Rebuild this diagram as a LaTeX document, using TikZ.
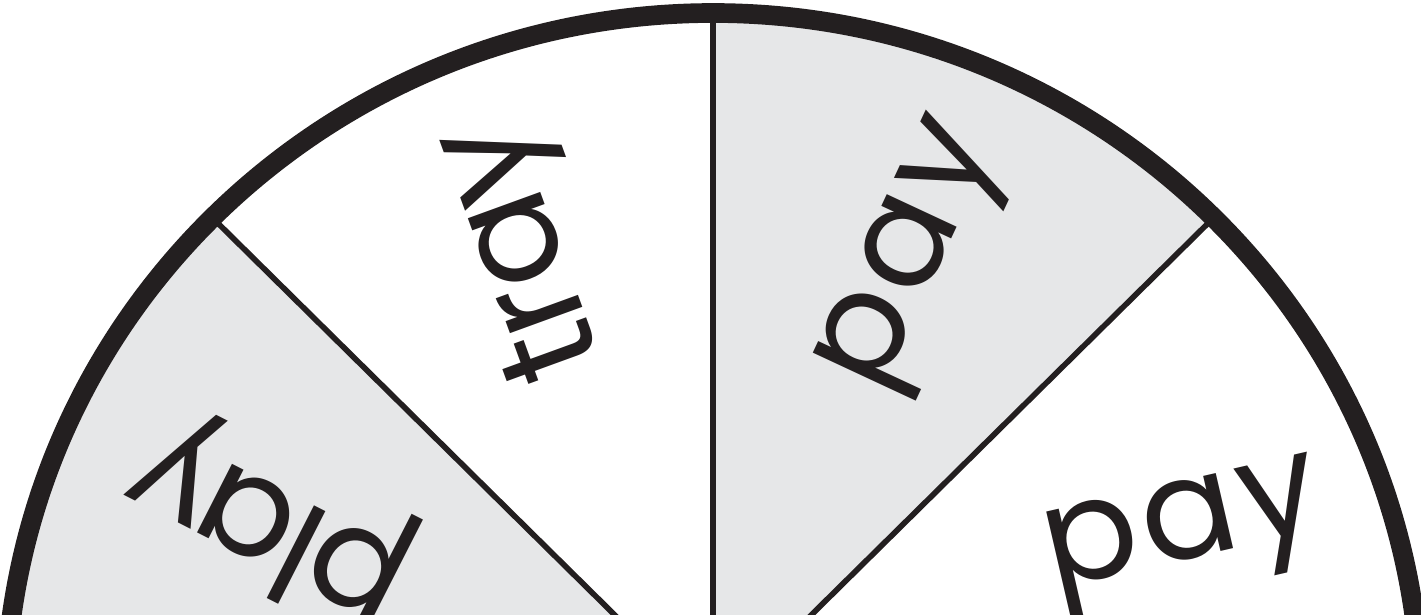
\documentclass[tikz,border=0pt]{standalone}
\usepackage{fontspec}
\setmainfont{Poppins}
\newfontfamily\spinfont[LetterSpace=4]{Poppins}
\newfontfamily\spinfonttight[LetterSpace=-3]{Poppins}
\definecolor{wedgegray}{RGB}{230,231,232}
\definecolor{inkblack}{RGB}{35,31,32}

\begin{document}
\begin{tikzpicture}[
    wedge/.style={fill=wedgegray, draw=none},
    spoke/.style={draw=inkblack, line width=1.6pt},
    rim/.style={draw=inkblack, line width=5.6pt},
    word/.style={font=\spinfont\fontsize{40}{44}\selectfont, text=inkblack,
                 anchor=mid, inner sep=0pt},
    narrowword/.style={word, font=\spinfonttight\fontsize{40}{44}\selectfont}
]
\useasboundingbox (-7.13,0.98) rectangle (7.08,7.12);
\clip (-7.13,0.98) rectangle (7.08,7.12);

\coordinate (hub) at (0,0);
\coordinate (s0)   at (7.08,0);
\coordinate (s45)  at ({7.08*cos(45)},{6.99*sin(45)});
\coordinate (s90)  at (0,6.99);
\coordinate (s135) at ({7.08*cos(135)},{6.99*sin(135)});
\coordinate (s180) at (-7.08,0);

% shaded wedges
\fill[wedge] (hub) -- (s45) arc[start angle=45, end angle=90, x radius=7.08, y radius=6.99] -- cycle;
\fill[wedge] (hub) -- (s135) arc[start angle=135, end angle=180, x radius=7.08, y radius=6.99] -- cycle;

% spokes
\foreach \s in {s0,s45,s90,s135,s180}
    \draw[spoke] (hub) -- (\s);

% rim
\draw[rim] (hub) ellipse[x radius=7.08, y radius=6.99];

% words
\node[narrowword, rotate=153] (play)     at (-4.31,2.12) {play};
\node[narrowword, rotate=110] (tray)     at (-1.65,4.72) {tray};
\node[word, rotate=65]        (paytop)   at (2.16,4.48)  {pay};
\node[word, rotate=13]        (payright) at (4.75,1.63)  {pay};

\end{tikzpicture}
\end{document}
